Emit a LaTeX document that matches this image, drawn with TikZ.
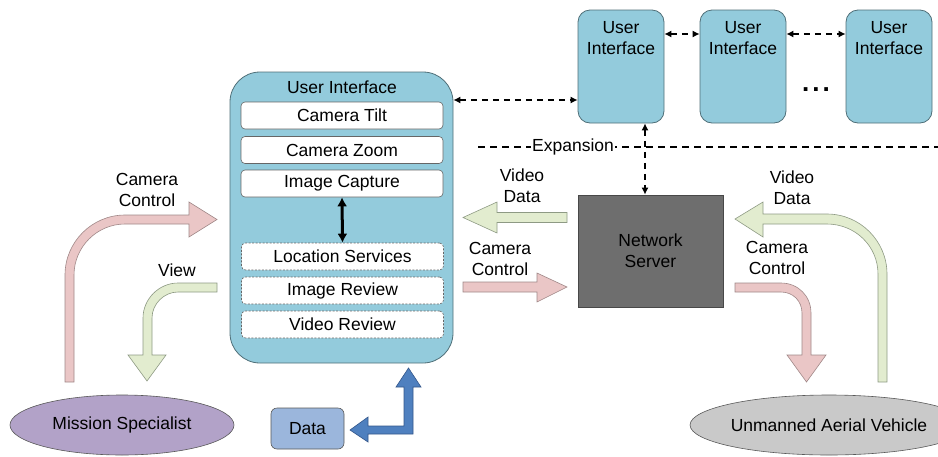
\documentclass[tikz,border=0pt]{standalone}
\usepackage{fontspec}
\setmainfont{Liberation Sans}
\usetikzlibrary{arrows.meta,shapes.geometric,calc}
\definecolor{uiblue}{HTML}{93CBDC}
\definecolor{uiedge}{HTML}{4F6F78}
\definecolor{pinkfill}{HTML}{EAC6C6}
\definecolor{pinkedge}{HTML}{A08888}
\definecolor{greenfill}{HTML}{E2ECCF}
\definecolor{greenedge}{HTML}{8E9A84}
\definecolor{serverfill}{HTML}{6E6E6E}
\definecolor{serveredge}{HTML}{484848}
\definecolor{msfill}{HTML}{B2A2C8}
\definecolor{uavfill}{HTML}{C9C9C9}
\definecolor{datafill}{HTML}{9BB6DC}
\definecolor{dataarrow}{HTML}{4F80BF}
\definecolor{dataedge}{HTML}{34578A}
\begin{document}
\begin{tikzpicture}[x=1pt,y=-1pt,
  font=\fontsize{17.5}{21}\selectfont,
  mainui/.style={draw=uiedge,fill=uiblue,rounded corners=30pt,line width=0.8pt,minimum width=223pt,minimum height=291pt,inner sep=0pt},
  smallui/.style={draw=uiedge,fill=uiblue,rounded corners=12pt,line width=0.8pt,minimum width=86pt,minimum height=113pt,inner sep=0pt},
  subbox/.style={draw=gray!80!black,fill=white,rounded corners=4pt,line width=0.6pt,minimum width=202pt,minimum height=27pt,inner sep=0pt},
  subdash/.style={subbox,dash pattern=on 2pt off 1.5pt},
  lbl/.style={align=center,inner sep=0pt},
  dasharrow/.style={line width=1.2pt,dash pattern=on 6pt off 5pt,{Latex[length=7pt,width=7pt]}-{Latex[length=7pt,width=7pt]}},
  pinkarrow/.style={fill=pinkfill,draw=pinkedge,line width=0.6pt,line join=miter},
  greenarrow/.style={fill=greenfill,draw=greenedge,line width=0.6pt,line join=miter},
  bluearrow/.style={fill=dataarrow,draw=dataedge,line width=0.6pt,line join=miter}
]
\useasboundingbox (0,0) rectangle (938,456);

% coordinates for connector heights
\coordinate (y100) at (0,100);
\coordinate (y34) at (0,34);
\coordinate (x645) at (645,0);

% main user interface
\node[mainui] (ui) at (341.5,217.5) {};
\node[lbl] (uititle) at (342,87) {User Interface};
\node[subbox] (tilt) at (342,115.5) {Camera Tilt};
\node[subbox] (zoom) at (342,150) {Camera Zoom};
\node[subbox] (capture) at (342,183.5) {Image Capture};
\node[subdash] (loc) at (342.5,256.5) {Location Services};
\node[subdash] (imgrev) at (342.5,290.5) {Image Review};
\node[subdash] (vidrev) at (342.5,324.5) {Video Review};
\draw[line width=3pt,{Latex[length=9pt,width=10pt]}-{Latex[length=9pt,width=10pt]}] (capture.south) -- (loc.north);

% expansion user interfaces
\node[smallui] (u1) at (621,66.5) {};
\node[smallui] (u2) at (743,66.5) {};
\node[smallui] (u3) at (889,66.5) {};
\node[lbl,anchor=north] at (u1.north) [yshift=-12pt] {User\\Interface};
\node[lbl,anchor=north] at (u2.north) [yshift=-12pt] {User\\Interface};
\node[lbl,anchor=north] at (u3.north) [yshift=-12pt] {User\\Interface};
\node[lbl,font=\fontsize{26}{26}\selectfont] (dots) at (816,90) {\textbf{.\hspace{3pt}.\hspace{3pt}.}};

\draw[dasharrow] (ui.east |- y100) -- (u1.west |- y100);
\draw[dasharrow] (u1.east |- y34) -- (u2.west |- y34);
\draw[dasharrow] (u2.east |- y34) -- (u3.west |- y34);

% network server
\node[draw=serveredge,fill=serverfill,minimum width=145pt,minimum height=112pt,inner sep=0pt,align=center,line width=0.8pt] (ns) at (650.5,251) {Network\\Server};

% expansion line
\coordinate (exl) at (478,147);
\coordinate (exr) at (938,147);
\draw[line width=1.2pt,dash pattern=on 7pt off 5pt] (exl) -- (exr);
\node[fill=white,inner sep=1.5pt] (exp) at (573,147) {Expansion};
\draw[dasharrow] (x645 |- u1.south) -- (x645 |- ns.north);

% ellipses and data
\node[ellipse,draw=gray!70!black,fill=msfill,minimum width=224pt,minimum height=60pt,inner sep=0pt,line width=0.6pt] (ms) at (122,425) {Mission Specialist};
\node[ellipse,draw=gray!70!black,fill=uavfill,minimum width=218pt,minimum height=60pt,inner sep=0pt,line width=0.6pt] (uav) at (829,425) {Unmanned Aerial Vehicle};
\node[draw=gray!70!black,fill=datafill,rounded corners=6pt,minimum width=73pt,minimum height=41pt,inner sep=0pt,line width=0.6pt] (data) at (307.5,428.5) {Data};

% left camera control (pink)
\draw[pinkarrow] (65,382) -- (65,275) .. controls (65,242) and (92,215) .. (125,215) -- (189,215) -- (189,202) -- (217,219.5) -- (189,237) -- (189,224) -- (125,224) .. controls (97,224) and (74,247) .. (74,275) -- (74,382) -- cycle;
\node[lbl] at (147,190) {Camera\\Control};

% view (green)
\draw[greenarrow] (217,283) -- (178,283) .. controls (159,283) and (143,299) .. (143,318) -- (143,355) -- (128,355) -- (147,381) -- (166,355) -- (152,355) -- (152,318) .. controls (152,304) and (164,292) .. (178,292) -- (217,292) -- cycle;
\node[lbl] at (177,270) {View};

% middle video data (green, left)
\draw[greenarrow] (567,212.5) -- (497,212.5) -- (497,202) -- (463,217.5) -- (497,233) -- (497,222.5) -- (567,222.5) -- cycle;
\node[lbl] at (522,186) {Video\\Data};

% middle camera control (pink, right)
\draw[pinkarrow] (463,282) -- (537,282) -- (537,273) -- (567,287) -- (537,302) -- (537,292) -- (463,292) -- cycle;
\node[lbl] at (500,259) {Camera\\Control};

% right camera control (pink)
\draw[pinkarrow] (735,283) -- (781,283) .. controls (798,283) and (811,296) .. (811,313) -- (811,355) -- (826,355) -- (806.5,382) -- (787,355) -- (802,355) -- (802,313) .. controls (802,301) and (793,292) .. (781,292) -- (735,292) -- cycle;
\node[lbl] at (777,258) {Camera\\Control};

% right video data (green)
\draw[greenarrow] (887,382) -- (887,274) .. controls (887,241) and (860,214) .. (827,214) -- (763,214) -- (763,202) -- (735,219) -- (763,237) -- (763,224) -- (827,224) .. controls (855,224) and (878,246) .. (878,274) -- (878,382) -- cycle;
\node[lbl] at (792,188) {Video\\Data};

% data arrow (blue)
\draw[bluearrow] (350,430) -- (368,417) -- (368,426) -- (404,426) -- (404,387) -- (396,387) -- (408.5,368) -- (421,387) -- (413,387) -- (413,434) -- (368,434) -- (368,442) -- cycle;
\end{tikzpicture}
\end{document}
